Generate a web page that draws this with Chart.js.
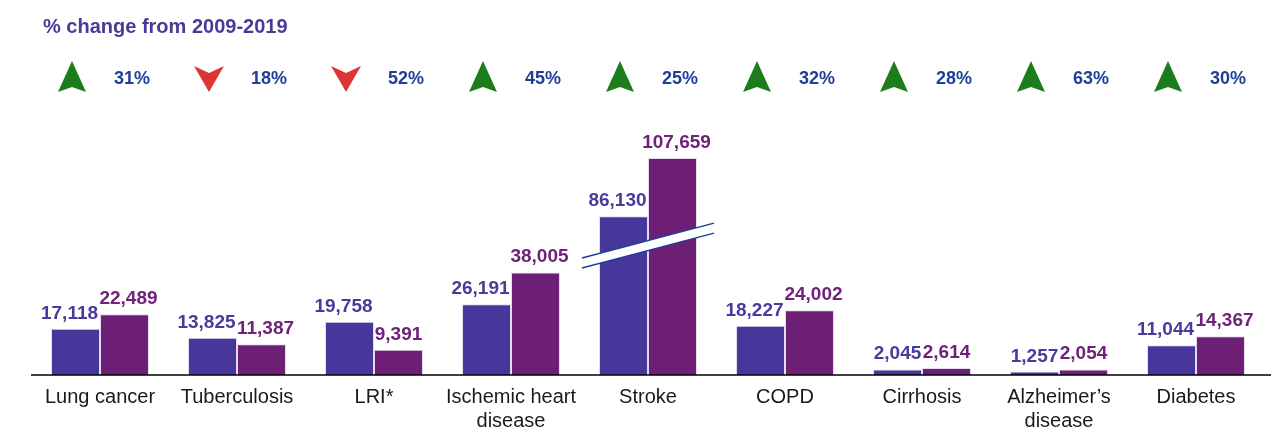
<!DOCTYPE html>
<html>
<head>
<meta charset="utf-8">
<script src="https://cdn.jsdelivr.net/npm/chart.js@4"></script>
<style>
  html, body { margin: 0; padding: 0; background: #fff; }
  #wrap { width: 1271px; height: 428px; position: relative; }
</style>
</head>
<body>
<div id="wrap"><canvas id="my-chart"></canvas></div>
<script>
'use strict';

// ******* DATA *********
let causes = [['Lung cancer'], 'Tuberculosis', 'LRI*', ['Ischemic heart', 'disease'], 'Stroke', 'COPD', 'Cirrhosis', ['Alzheimer\u2019s', 'disease'], 'Diabetes'];
let deaths2009 = [17118, 13825, 19758, 26191, 86130, 18227, 2045, 1257, 11044];
let deaths2019 = [22489, 11387, 9391, 38005, 107659, 24002, 2614, 2054, 14367];
let pctChange = [31, -18, -52, 45, 25, 32, 28, 63, 30];
let seriesNames = ['2009', '2019'];
let titleText = '% change from 2009-2019';

// axis break: values above breakAbove lose breakCut units (Stroke bars)
let breakAbove = 50000;
let breakCut = 27300;

// ******* STYLE *********
let FONT = '"Liberation Sans", Arial, sans-serif';
let blueBar = '#48379a';
let purpleBar = '#6c1f75';
let blueText = '#4a3a9c';
let purpleText = '#6e2278';
let pctText = '#1f3f97';

function plotted(v) {
  return v > breakAbove ? v - breakCut : v;
}

function fmt(v) {
  return v.toLocaleString('en-US');
}

// ***** PLUGIN: labels, arrows, break, axis line *****
let extrasPlugin = {
  id: 'extras',
  afterDatasetsDraw(chart) {
    let c = chart.ctx;
    let x = chart.scales.x;
    let y = chart.scales.y;
    let base = y.getPixelForValue(0);

    // break marker across the stroke bars
    let strokeIdx = deaths2009.findIndex(v => v > breakAbove);
    if (strokeIdx >= 0) {
      let cx = x.getPixelForValue(strokeIdx);
      let yl = y.getPixelForValue(41500);
      let yr = y.getPixelForValue(54400);
      c.save();
      c.fillStyle = '#fff';
      c.beginPath();
      c.moveTo(cx - 66, yl - 5);
      c.lineTo(cx + 66, yr - 5);
      c.lineTo(cx + 66, yr + 5);
      c.lineTo(cx - 66, yl + 5);
      c.closePath();
      c.fill();
      c.strokeStyle = '#1f3f97';
      c.lineWidth = 1.5;
      c.beginPath();
      c.moveTo(cx - 66, yl - 5);
      c.lineTo(cx + 66, yr - 5);
      c.moveTo(cx - 66, yl + 5);
      c.lineTo(cx + 66, yr + 5);
      c.stroke();
      c.restore();
    }

    // value labels (wide ones nudged apart like the original)
    let raw = [deaths2009, deaths2019];
    let colors = [blueText, purpleText];
    let shift = [-6, 4];
    c.save();
    c.font = 'bold 19px ' + FONT;
    c.textAlign = 'center';
    c.textBaseline = 'alphabetic';
    for (let d = 0; d < 2; d++) {
      let meta = chart.getDatasetMeta(d);
      meta.data.forEach((bar, i) => {
        let txt = fmt(raw[d][i]);
        let w = c.measureText(txt).width;
        let dx = w > bar.width + 4 ? shift[d] : 0;
        c.fillStyle = colors[d];
        c.fillText(txt, bar.x + dx, bar.y - 10);
      });
    }
    c.restore();

    // baseline
    c.save();
    c.strokeStyle = '#000';
    c.lineWidth = 1.5;
    c.beginPath();
    c.moveTo(31, base);
    c.lineTo(chart.width, base);
    c.stroke();
    c.restore();

    // title
    c.save();
    c.font = 'bold 20px ' + FONT;
    c.fillStyle = '#4a3a98';
    c.textAlign = 'left';
    c.textBaseline = 'alphabetic';
    c.fillText(titleText, 43, 33);
    c.restore();

    // arrows + percentages
    pctChange.forEach((p, i) => {
      let cx = x.getPixelForValue(i);
      let ax = cx - 28;
      c.save();
      if (p >= 0) {
        c.fillStyle = '#1b7d1b';
        c.beginPath();
        c.moveTo(ax, 61);
        c.lineTo(ax + 14, 92);
        c.lineTo(ax, 87);
        c.lineTo(ax - 14, 92);
        c.closePath();
        c.fill();
      } else {
        c.fillStyle = '#dc3535';
        c.beginPath();
        c.moveTo(ax - 15, 66);
        c.lineTo(ax, 73);
        c.lineTo(ax + 15, 66);
        c.lineTo(ax, 92);
        c.closePath();
        c.fill();
      }
      c.font = 'bold 18px ' + FONT;
      c.fillStyle = pctText;
      c.textAlign = 'center';
      c.textBaseline = 'alphabetic';
      c.fillText(Math.abs(p) + '%', cx + 32, 84);
      c.restore();
    });
  }
};

// ***** CHART *****
let ctx = document.getElementById('my-chart');

let chartObj = {
  type: 'bar',
  data: {
    labels: causes,
    datasets: [{
      label: seriesNames[0],
      data: deaths2009.map(plotted),
      backgroundColor: blueBar,
      borderColor: 'rgba(220,210,235,0.8)',
      borderWidth: 1,
      categoryPercentage: 0.715,
      barPercentage: 1.0
    },
    {
      label: seriesNames[1],
      data: deaths2019.map(plotted),
      backgroundColor: purpleBar,
      borderColor: 'rgba(220,210,235,0.8)',
      borderWidth: 1,
      categoryPercentage: 0.715,
      barPercentage: 1.0
    }]
  },
  options: {
    responsive: true,
    maintainAspectRatio: false,
    animation: false,
    layout: { padding: { top: 105, left: 31.5, right: 6.5, bottom: 0 } },
    plugins: {
      legend: { display: false },
      tooltip: { enabled: false }
    },
    scales: {
      x: {
        grid: { display: false, drawTicks: false },
        border: { display: false },
        ticks: {
          color: '#1a1a1a',
          padding: 10,
          maxRotation: 0,
          autoSkip: false,
          font: { family: FONT, size: 20, lineHeight: 1.2 }
        },
        afterFit(scale) { scale.height = 53; }
      },
      y: {
        display: false,
        min: 0,
        max: 100000
      }
    }
  },
  plugins: [extrasPlugin]
};

new Chart(ctx, chartObj); //eslint-disable-line
</script>
</body>
</html>
